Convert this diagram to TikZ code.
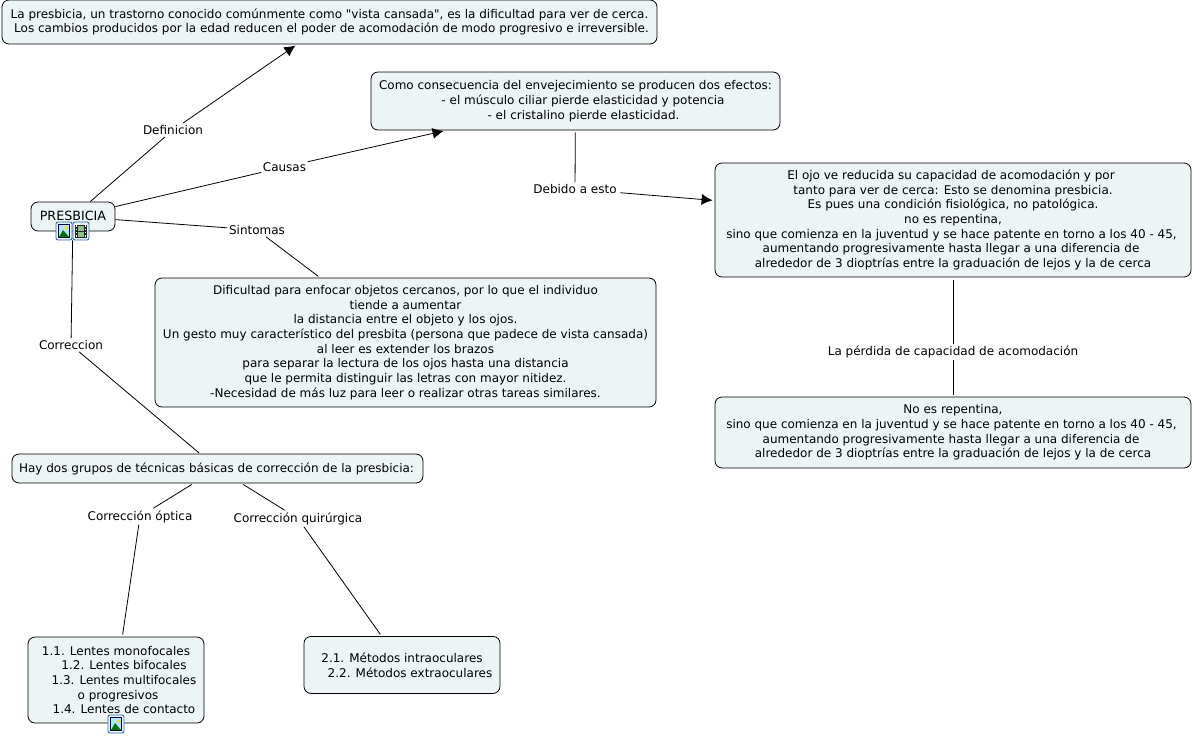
\documentclass[tikz,border=0pt]{standalone}
\usepackage{fontspec}
\defaultfontfeatures[\rmfamily]{}
\setmainfont{DejaVu Sans}
\usetikzlibrary{arrows.meta, positioning}
\definecolor{cajafondo}{HTML}{EDF4F6}
\definecolor{iconoazul}{HTML}{2F6DB5}
\tikzset{
  caja/.style={draw=black, line width=0.8pt, fill=cajafondo, rounded corners=7pt, align=center, inner sep=0pt, font=\fontsize{12}{14.7}\selectfont},
  enlace/.style={align=center, inner xsep=1.5pt, inner ysep=2pt, font=\fontsize{12}{14.7}\selectfont},
  linea/.style={line width=0.8pt, black},
  flecha/.style={linea, -{Latex[length=11pt,width=11pt]}},
  icono/.pic={
    \draw[iconoazul, line width=0.9pt, fill=cajafondo, rounded corners=2pt] (-8,-9) rectangle (8,9);
    \fill[white!70!cyan] (-5.5,-6.5) rectangle (5.5,6.5);
    \draw[black!70!blue, line width=0.8pt] (-5.5,-6.5) rectangle (5.5,6.5);
    \fill[green!45!black] (-5,6) -- (-1,-1) -- (5,6) -- cycle;
    \fill[yellow!80!orange] (2.5,-3) circle (1.8);
  },
  pelicula/.pic={
    \draw[iconoazul, line width=0.9pt, fill=cajafondo, rounded corners=2pt] (-8,-9) rectangle (8,9);
    \fill[black!85] (-6,-6.5) rectangle (6,6.5);
    \fill[green!30!gray!70] (-3,-5.5) rectangle (3,-0.5);
    \fill[green!30!gray!70] (-3,0.5) rectangle (3,5.5);
    \foreach \y in {-4.8,-1.6,1.6,4.8} {
      \fill[white] (-5.2,\y-0.8) rectangle (-4,\y+0.8);
      \fill[white] (4,\y-0.8) rectangle (5.2,\y+0.8);
    }
  }
}
\begin{document}
\begin{tikzpicture}[x=1pt,y=-1pt]
\useasboundingbox (0,0) rectangle (1193,736);
% Cajas de texto
\node[caja, minimum width=655pt, minimum height=44pt] (txtdefinicion) at (329.5,22) {La presbicia, un trastorno conocido comúnmente como "vista cansada", es la dificultad para ver de cerca.\\\hspace*{4pt}Los cambios producidos por la edad reducen el poder de acomodación de modo progresivo e irreversible.};
\node[caja, minimum width=84pt, minimum height=29pt, font=\fontsize{12.7}{14.7}\selectfont] (presbicia) at (73,216.5) {\raisebox{1.5pt}{PRESBICIA}};
\node[caja, minimum width=409pt, minimum height=58pt] (txtcausas) at (575.5,101) {Como consecuencia del envejecimiento se producen dos efectos:\\\hspace*{15pt}- el músculo ciliar pierde elasticidad y potencia\\\hspace*{16pt}- el cristalino pierde elasticidad.};
\node[caja, minimum width=501pt, minimum height=129pt] (txtsintomas) at (405.5,342.5) {Dificultad para enfocar objetos cercanos, por lo que el individuo\\tiende a aumentar\\la distancia entre el objeto y los ojos.\\Un gesto muy característico del presbita (persona que padece de vista cansada)\\al leer es extender los brazos\\para separar la lectura de los ojos hasta una distancia\\que le permita distinguir las letras con mayor nitidez.\\-Necesidad de más luz para leer o realizar otras tareas similares.};
\node[caja, minimum width=476pt, minimum height=114pt] (txtefecto) at (953,220) {\hspace*{-4pt}El ojo ve reducida su capacidad de acomodación y por\\tanto para ver de cerca: Esto se denomina presbicia.\\Es pues una condición fisiológica, no patológica.\\no es repentina,\\\hspace*{-3pt}sino que comienza en la juventud y se hace patente en torno a los 40 - 45,\\\hspace*{-4pt}aumentando progresivamente hasta llegar a una diferencia de\\alrededor de 3 dioptrías entre la graduación de lejos y la de cerca};
\node[caja, minimum width=476pt, minimum height=71pt] (txtperdida) at (953,432.5) {No es repentina,\\\hspace*{-3pt}sino que comienza en la juventud y se hace patente en torno a los 40 - 45,\\\hspace*{-4pt}aumentando progresivamente hasta llegar a una diferencia de\\alrededor de 3 dioptrías entre la graduación de lejos y la de cerca};
\node[caja, minimum width=411pt, minimum height=29pt] (txttecnicas) at (217.5,468.5) {\hspace*{-2pt}Hay dos grupos de técnicas básicas de corrección de la presbicia:};
\node[caja, minimum width=176pt, minimum height=86pt] (txtlentes) at (116,680) {1.1. Lentes monofocales\\\hspace*{16pt}1.2. Lentes bifocales\\\hspace*{16pt}1.3. Lentes multifocales\\\hspace*{4pt}o progresivos\\\hspace*{16pt}1.4. Lentes de contacto};
\node[caja, minimum width=196pt, minimum height=57pt, anchor=north] (txtmetodos) at (402,636) {\rule{0pt}{11pt}2.1. Métodos intraoculares\\\hspace*{16pt}2.2. Métodos extraoculares};
% Etiquetas de enlace
\node[enlace] (definicion) at (173,130) {Definicion};
\node[enlace] (causas) at (284.5,167) {Causas};
\node[enlace] (sintomas) at (257,230) {Sintomas};
\node[enlace] (correccion) at (71,345) {Correccion};
\node[enlace] (debido) at (575,189) {Debido a esto};
\node[enlace] (perdida) at (953,352) {La pérdida de capacidad de acomodación};
\node[enlace] (optica) at (140,516.5) {Corrección óptica};
\node[enlace] (quirurgica) at (298,518.5) {Corrección quirúrgica};
% Conectores
\draw[linea] (presbicia) -- (definicion);
\draw[flecha, shorten >=2pt] (definicion) -- (txtdefinicion);
\draw[linea] (presbicia) -- (causas);
\draw[flecha, shorten >=2.5pt] (causas) -- (txtcausas);
\draw[linea] (presbicia) -- (sintomas);
\draw[linea, shorten >=2pt] (sintomas) -- (txtsintomas);
\draw[linea, shorten <=9pt] (presbicia) -- (correccion);
\draw[linea, shorten >=1pt] (correccion) -- (txttecnicas);
\draw[linea, shorten <=2pt] (txtcausas) -- (debido);
\draw[flecha, shorten <=2pt, shorten >=2pt] (debido) -- (txtefecto);
\draw[linea, shorten <=3pt] (txtefecto) -- (perdida);
\draw[linea, shorten >=2pt] (perdida) -- (txtperdida);
\draw[linea, shorten <=2pt] (txttecnicas) -- (optica);
\draw[linea, shorten >=2pt] (optica) -- (txtlentes);
\draw[linea, shorten <=2pt] (txttecnicas) -- (quirurgica);
\draw[linea, shorten >=2pt] (quirurgica) -- (txtmetodos);
% Iconos
\pic at (64,231) {icono};
\pic at (81,231) {pelicula};
\pic at (116,724) {icono};
\end{tikzpicture}
\end{document}
